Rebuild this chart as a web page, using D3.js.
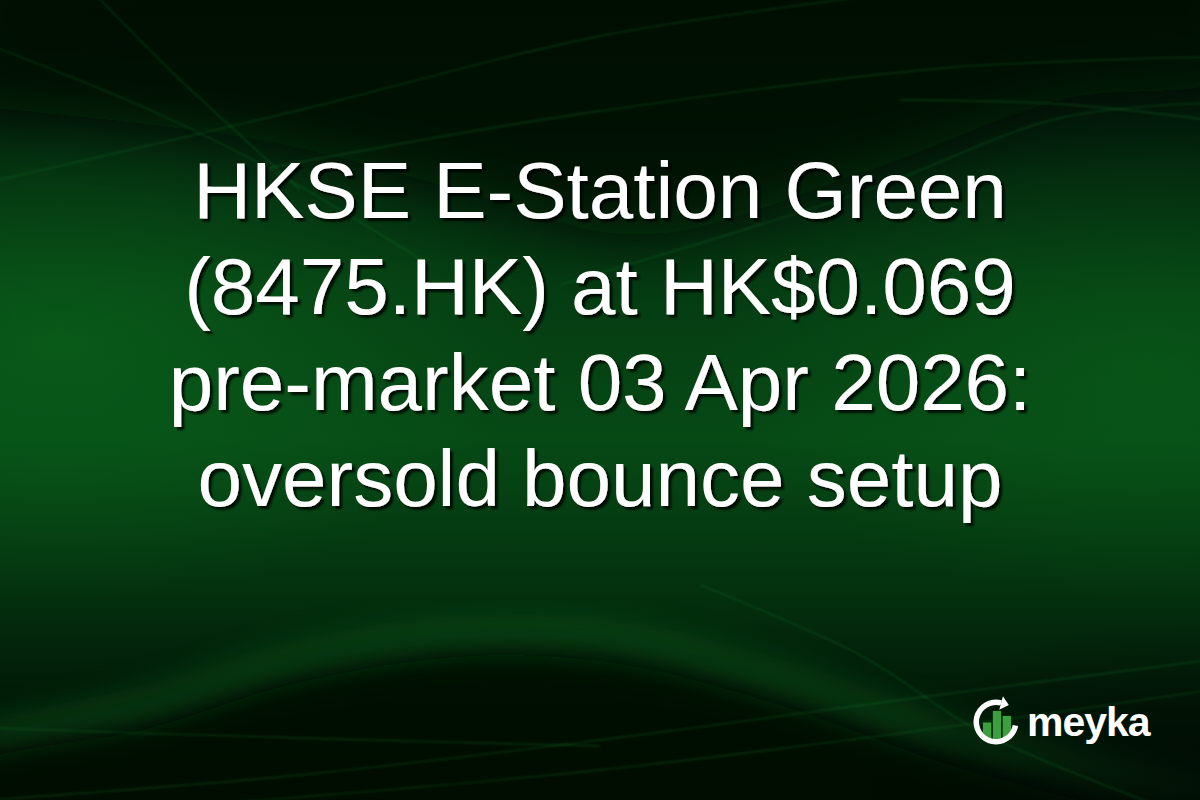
<!DOCTYPE html>
<html>
<head>
<meta charset="utf-8">
<script src="https://cdn.jsdelivr.net/npm/d3@7"></script>
<style>
  html, body { margin: 0; padding: 0; background: #02140a; overflow: hidden; }
</style>
</head>
<body>
<div id="card"></div>
<script>
// title text, one entry per line
var titleLines = [
    "HKSE E-Station Green",
    "(8475.HK) at HK$0.069",
    "pre-market 03 Apr 2026:",
    "oversold bounce setup"
];
var brandName = "meyka";
// relative heights of the three bars in the logo
var logoBars = [0.5, 0.85, 0.7];

var width = 1200, height = 800;

var svg = d3.select("#card")
    .append("svg")
    .attr("width", width)
    .attr("height", height);

var defs = svg.append("defs");

// base vertical gradient
var base = defs.append("linearGradient")
    .attr("id", "base")
    .attr("x1", 0).attr("y1", 0).attr("x2", 0).attr("y2", 1);
[["0", "#021309"], ["0.14", "#031d0b"], ["0.36", "#053c12"], ["0.55", "#064915"],
 ["0.72", "#04340f"], ["0.86", "#021c08"], ["1", "#010f05"]].forEach(function (s) {
    base.append("stop").attr("offset", s[0]).attr("stop-color", s[1]);
});

function radial(id, color, op) {
    var g = defs.append("radialGradient").attr("id", id);
    g.append("stop").attr("offset", "0").attr("stop-color", color).attr("stop-opacity", op);
    g.append("stop").attr("offset", "1").attr("stop-color", color).attr("stop-opacity", 0);
}
radial("glowL", "#0b6a1d", 0.6);
radial("glowR", "#0a621a", 0.55);
radial("darkC", "#000803", 0.85);

function blur(id, sd) {
    defs.append("filter").attr("id", id)
        .attr("x", "-20%").attr("y", "-20%").attr("width", "140%").attr("height", "140%")
        .append("feGaussianBlur").attr("stdDeviation", sd);
}
blur("b30", 30);
blur("b14", 14);
blur("b2", 1.2);

// drop shadow for the title
defs.append("filter").attr("id", "shadow")
    .attr("x", "-10%").attr("y", "-10%").attr("width", "120%").attr("height", "130%")
    .append("feDropShadow")
    .attr("dx", 3).attr("dy", 3)
    .attr("stdDeviation", 1)
    .attr("flood-color", "#000")
    .attr("flood-opacity", 0.8);

svg.append("rect").attr("width", width).attr("height", height).attr("fill", "url(#base)");

// glows
svg.append("ellipse").attr("cx", 60).attr("cy", 340).attr("rx", 480).attr("ry", 260).attr("fill", "url(#glowL)");
svg.append("ellipse").attr("cx", 1150).attr("cy", 370).attr("rx", 440).attr("ry", 230).attr("fill", "url(#glowR)");

var area = d3.line().curve(d3.curveCatmullRom);

// dark region at the top
var topDark = [[-40, -40], [1240, -40], [1240, 70], [1060, 100], [870, 170], [640, 235],
               [460, 190], [260, 140], [-40, 105]];
svg.append("path")
    .attr("d", area(topDark) + "Z")
    .attr("fill", "#000a03")
    .attr("opacity", 0.75)
    .attr("filter", "url(#b30)");

// lighter edge just above the bottom hump
var humpEdge = [[-20, 740], [150, 705], [300, 660], [470, 635], [620, 640], [780, 680], [950, 735], [1220, 800]];
svg.append("path")
    .attr("d", area(humpEdge))
    .attr("fill", "none")
    .attr("stroke", "#0b5e1c")
    .attr("stroke-width", 40)
    .attr("opacity", 0.4)
    .attr("filter", "url(#b14)");

// dark hump at the bottom
var bottomDark = [[-40, 840], [-40, 775], [150, 728], [300, 682], [470, 656], [620, 664],
                  [780, 705], [950, 765], [1100, 805], [1240, 840]];
svg.append("path")
    .attr("d", area(bottomDark) + "Z")
    .attr("fill", "#000a03")
    .attr("opacity", 0.85)
    .attr("filter", "url(#b14)");

// bottom right corner darkening
svg.append("ellipse").attr("cx", 1200).attr("cy", 820).attr("rx", 360).attr("ry", 200).attr("fill", "url(#darkC)");

// thin light streaks
var streaks = [
    [[-10, 182], [300, 110], [600, 36], [880, -5]],
    [[-10, 45], [150, 110], [268, 168], [430, 265]],
    [[96, -5], [170, 70], [230, 126], [300, 190]],
    [[268, 168], [450, 135], [600, 111], [945, 68], [1210, 57]],
    [[560, 285], [868, 190], [1060, 118], [1210, 103]],
    [[900, 100], [1060, 104], [1210, 120]],
    [[700, 585], [860, 655], [983, 733], [1210, 825]],
    [[-10, 728], [300, 738], [600, 746]],
    [[-10, 800], [300, 775], [600, 740], [900, 700], [1210, 660]],
    [[200, 805], [600, 770], [1000, 720], [1210, 690]]
];
svg.append("g")
    .selectAll("path")
    .data(streaks)
    .enter()
    .append("path")
    .attr("d", function (d) { return area(d); })
    .attr("fill", "none")
    .attr("stroke", "#23a33c")
    .attr("stroke-width", 1.3)
    .attr("opacity", 0.25)
    .attr("filter", "url(#b2)");

// title
var lineY = d3.scaleLinear().domain([0, 1]).range([218, 314]);

svg.append("g")
    .attr("font-family", "'Liberation Sans', Arial, sans-serif")
    .attr("font-size", "80px")
    .attr("text-anchor", "middle")
    .attr("filter", "url(#shadow)")
    .selectAll("text")
    .data(titleLines)
    .enter()
    .append("text")
    .attr("x", 600)
    .attr("y", function (d, i) { return lineY(i); })
    .attr("fill", "#fff")
    .text(function (d) { return d; });

// logo
var logo = svg.append("g").attr("transform", "translate(996,722)");
var deg = Math.PI / 180;

var barX = d3.scaleBand().domain(d3.range(logoBars.length)).range([-13, 15]).paddingInner(0.15);
var barY = d3.scaleLinear().domain([0, 1]).range([17, -16]);

logo.append("clipPath").attr("id", "ringClip")
    .append("circle").attr("r", 17.5);

logo.append("g")
    .attr("clip-path", "url(#ringClip)")
    .selectAll("rect")
    .data(logoBars)
    .enter()
    .append("rect")
    .attr("x", function (d, i) { return barX(i); })
    .attr("y", function (d) { return barY(d); })
    .attr("width", barX.bandwidth())
    .attr("height", function (d) { return barY(0) - barY(d); })
    .attr("fill", "#3e9f3f");

logo.append("path")
    .attr("d", d3.arc()({ innerRadius: 17, outerRadius: 22.5, startAngle: 100 * deg, endAngle: 375 * deg }))
    .attr("fill", "#fff");

var a = 15 * deg, r = 19.75;
var px = Math.sin(a) * r, py = -Math.cos(a) * r;
var tx = Math.cos(a), ty = Math.sin(a);
var nx = Math.sin(a), ny = -Math.cos(a);
logo.append("path")
    .attr("d", "M" + (px + tx * 8) + "," + (py + ty * 8) +
        "L" + (px + nx * 7) + "," + (py + ny * 7) +
        "L" + (px - nx * 7) + "," + (py - ny * 7) + "Z")
    .attr("fill", "#fff");

svg.append("text")
    .attr("x", 1027)
    .attr("y", 736)
    .attr("font-family", "'Liberation Sans', Arial, sans-serif")
    .attr("font-weight", "bold")
    .attr("font-size", "41px")
    .attr("letter-spacing", "-1px")
    .attr("fill", "#fff")
    .text(brandName);
</script>
</body>
</html>
